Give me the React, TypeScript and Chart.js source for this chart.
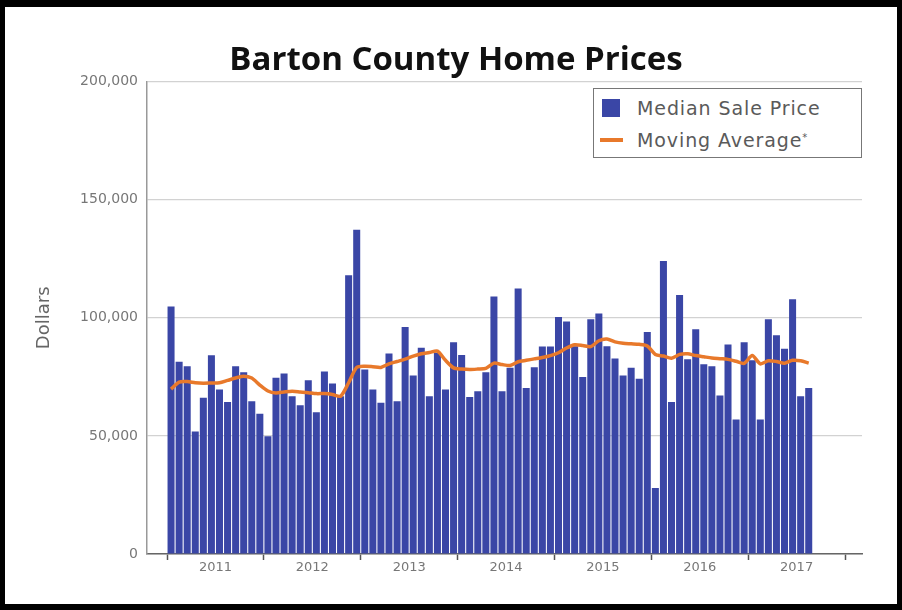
import React, { useEffect, useRef } from 'react';
import { Chart, registerables } from 'chart.js';

Chart.register(...registerables);

const TITLE = 'Barton County Home Prices';
const Y_TITLE = 'Dollars';
const SERIES_BAR = 'Median Sale Price';
const SERIES_LINE = 'Moving Average';

const YEARS = ['2011', '2012', '2013', '2014', '2015', '2016', '2017'];

const Y_TICKS = [0, 50000, 100000, 150000, 200000];
const Y_TICK_LABELS = ['0', '50,000', '100,000', '150,000', '200,000'];

// Monthly median sale price, Jan 2011 - Aug 2017 (dollars)
const medianSalePrice = [
  // 2011
  104800, 81400, 79500, 51900, 66100, 84100, 69600, 64400, 79500, 77000, 64700, 59400,
  // 2012
  49800, 74600, 76400, 66800, 63000, 73600, 60000, 77300, 72200, 66800, 118000, 137300,
  // 2013
  78100, 69600, 64000, 84900, 64700, 96100, 75600, 87300, 66800, 85200, 69600, 89700,
  // 2014
  84200, 66500, 68900, 77000, 109000, 68900, 78800, 112400, 70300, 79100, 87800, 87800,
  // 2015
  100300, 98400, 88000, 74900, 99400, 101800, 88000, 82800, 75600, 78800, 74200, 94000,
  // 2016
  27900, 124100, 64300, 109600, 82400, 95100, 80300, 79500, 67100, 88700, 56900, 89700,
  // 2017
  82000, 56900, 99400, 92600, 86900, 107900, 66800, 70300,
];

// Moving average (dollars)
const movingAverage = [
  // 2011
  69800, 72800, 73000, 72500, 72300, 72400, 72500, 73500, 74500, 75300, 74500, 71500,
  // 2012
  69000, 68200, 68600, 68900, 68600, 68300, 67900, 67900, 67500, 66800, 72500, 79000,
  // 2013
  79500, 79300, 79000, 80500, 81500, 82500, 83800, 84800, 85300, 85900, 82000, 78800,
  // 2014
  78300, 78100, 78300, 78600, 80800, 80200, 79800, 81400, 82000, 82600, 83200, 84000,
  // 2015
  85200, 87200, 88600, 88300, 87800, 90300, 91000, 89800, 89200, 89000, 88800, 88100,
  // 2016
  84500, 83800, 82900, 84500, 84800, 84000, 83500, 83000, 82700, 82400, 81600, 80700,
  // 2017
  84000, 80500, 81800, 81500, 80800, 82000, 81800, 80800,
];

const BAR_COLOR = '#3a46a6';
const LINE_COLOR = '#e8792b';
const FONT = 'DejaVu Sans';

export default function App() {
  const canvasRef = useRef<HTMLCanvasElement | null>(null);

  useEffect(() => {
    const canvas = canvasRef.current;
    if (!canvas) return;
    const barData = medianSalePrice.map((v, i) => ({ x: i + 0.5, y: v }));
    const lineData = movingAverage.map((v, i) => ({ x: i + 0.5, y: v }));

    const chart = new Chart(canvas, {
      data: {
        datasets: [
          {
            type: 'line',
            label: SERIES_LINE,
            data: lineData,
            borderColor: LINE_COLOR,
            borderWidth: 3.5,
            pointRadius: 0,
            tension: 0.25,
            order: 0,
          } as any,
          {
            type: 'bar',
            label: SERIES_BAR,
            data: barData,
            backgroundColor: BAR_COLOR,
            borderWidth: 0,
            barPercentage: 0.87,
            categoryPercentage: 1,
            order: 1,
          } as any,
        ],
      },
      options: {
        animation: false,
        responsive: false,
        devicePixelRatio: 1,
        layout: { padding: { left: 10, right: 0, top: 0, bottom: 0 } },
        plugins: {
          legend: { display: false },
          tooltip: { enabled: false },
          title: {
            display: true,
            text: TITLE,
            color: '#111',
            font: { family: 'Open Sans', size: 33, weight: 'bold' },
            padding: { top: 34, bottom: 1 },
          },
        },
        scales: {
          x: {
            type: 'linear',
            offset: false,
            min: -2.48,
            max: 86.1,
            afterBuildTicks: (scale: any) => {
              const t: any[] = [];
              for (let v = 0; v <= 84; v += 6) t.push({ value: v });
              scale.ticks = t;
            },
            afterFit: (scale: any) => {
              scale.height = 50;
            },
            ticks: {
              autoSkip: false,
              maxRotation: 0,
              padding: 0,
              color: '#777',
              font: { family: FONT, size: 13 },
              callback: (v: any) => {
                const n = Number(v);
                if (n % 12 === 6) return YEARS[(n - 6) / 12] ?? '';
                return '';
              },
            },
            grid: {
              offset: false,
              drawOnChartArea: false,
              tickLength: 6,
              tickWidth: 1.5,
              tickColor: (ctx: any) =>
                ctx.tick && ctx.tick.value % 12 === 0 ? '#555' : 'rgba(0,0,0,0)',
            },
            border: { color: '#666', width: 1.5 },
          },
          y: {
            min: 0,
            max: 200000,
            afterBuildTicks: (scale: any) => {
              scale.ticks = Y_TICKS.map((v) => ({ value: v }));
            },
            afterFit: (scale: any) => {
              scale.width = 132;
            },
            ticks: {
              padding: 9,
              color: '#777',
              font: { family: FONT, size: 14 },
              callback: (v: any) => {
                const idx = Y_TICKS.indexOf(Number(v));
                return idx >= 0 ? Y_TICK_LABELS[idx] : '';
              },
            },
            grid: { color: '#d2d2d2', lineWidth: 1.2, drawTicks: false },
            border: { color: '#999', width: 1.5 },
            title: {
              display: true,
              text: Y_TITLE,
              color: '#666',
              font: { family: FONT, size: 18 },
              padding: { top: 19, bottom: 0 },
            },
          },
          yRight: {
            type: 'linear',
            position: 'right',
            min: 0,
            max: 1,
            grid: { display: false, drawTicks: false },
            border: { display: false },
            ticks: { display: false },
            afterFit: (scale: any) => {
              scale.width = 35;
            },
          },
        },
      },
    });
    return () => chart.destroy();
  }, []);

  return (
    <div
      style={{
        position: 'absolute',
        left: 0,
        top: 0,
        width: 902,
        height: 610,
        boxSizing: 'border-box',
        borderStyle: 'solid',
        borderColor: '#000',
        borderWidth: '7px 5px 6px 5px',
        background: '#fff',
      }}
    >
      <div style={{ position: 'relative', width: 892, height: 597 }}>
        <canvas ref={canvasRef} width={892} height={597} style={{ display: 'block' }} />
        <div
          style={{
            position: 'absolute',
            left: 588,
            top: 81,
            width: 269,
            height: 70,
            boxSizing: 'border-box',
            border: '1.5px solid #777',
            background: '#fff',
            fontFamily: FONT,
            fontSize: 19,
            color: '#5a5a5a',
            letterSpacing: '0.9px',
          }}
        >
          <div style={{ position: 'absolute', left: 8, top: 10, width: 18, height: 18, background: BAR_COLOR }} />
          <div style={{ position: 'absolute', left: 43, top: 5, lineHeight: '28px', whiteSpace: 'nowrap' }}>
            {SERIES_BAR}
          </div>
          <div style={{ position: 'absolute', left: 6, top: 49, width: 23, height: 4, background: LINE_COLOR }} />
          <div style={{ position: 'absolute', left: 43, top: 37, lineHeight: '28px', whiteSpace: 'nowrap' }}>
            {SERIES_LINE}
            <sup style={{ fontSize: 10, verticalAlign: 'top', position: 'relative', top: -2 }}>*</sup>
          </div>
        </div>
      </div>
    </div>
  );
}
